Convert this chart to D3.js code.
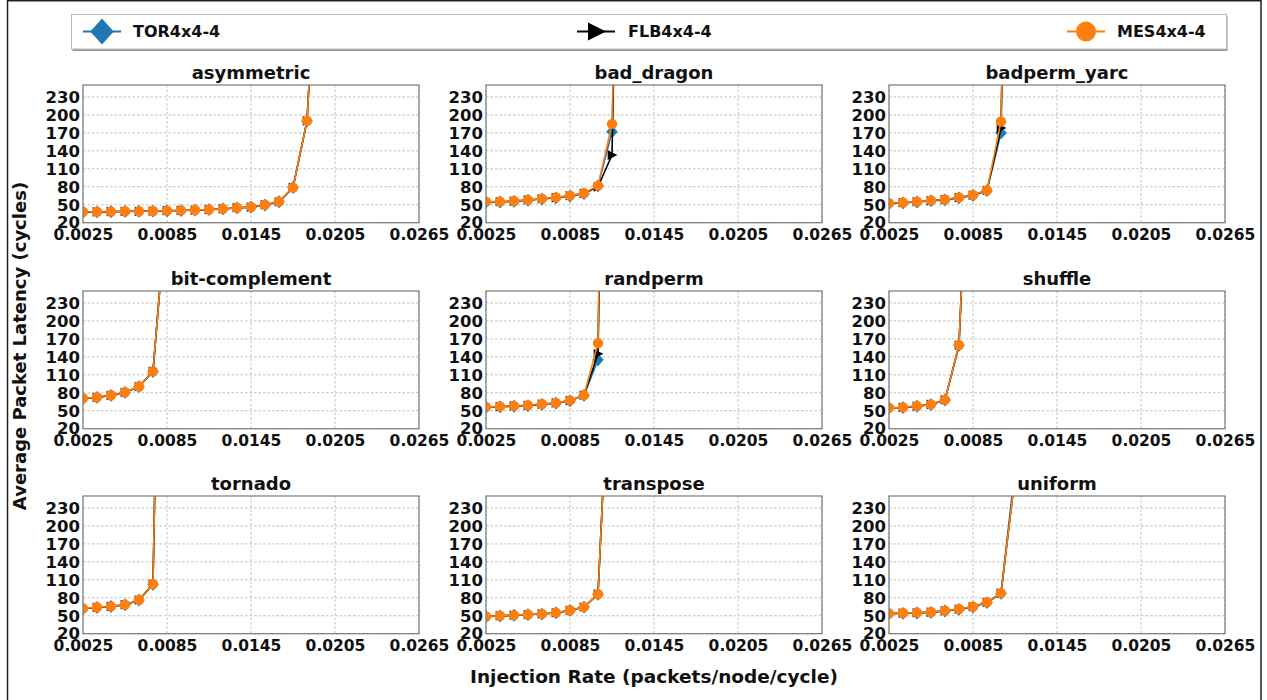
<!DOCTYPE html>
<html>
<head>
<meta charset="utf-8">
<script src="https://cdn.jsdelivr.net/npm/d3@7"></script>
<style>
  html, body { margin: 0; padding: 0; background: #fff; }
  svg { display: block; font-family: "DejaVu Sans", sans-serif; font-weight: bold; }
</style>
</head>
<body>
<svg id="chart" width="1267" height="700"></svg>
<script>
// ---------------- data ----------------
const seriesNames = ["TOR4x4-4", "FLB4x4-4", "MES4x4-4"];
const seriesColors = ["#1f77b4", "#000000", "#ff7f0e"];
const seriesMarkers = ["diamond", "triangle", "circle"];

const patterns = ["asymmetric", "bad_dragon", "badperm_yarc",
                  "bit-complement", "randperm", "shuffle",
                  "tornado", "transpose", "uniform"];

const xTickValues = [0.0025, 0.0085, 0.0145, 0.0205, 0.0265];
const xTickLabels = ["0.0025", "0.0085", "0.0145", "0.0205", "0.0265"];
const yTickValues = [20, 50, 80, 110, 140, 170, 200, 230];

// injection rates (shared by all panels; each series uses the leading part)
const rates = [0.0025, 0.0035, 0.0045, 0.0055, 0.0065, 0.0075, 0.0085, 0.0095,
               0.0105, 0.0115, 0.0125, 0.0135, 0.0145, 0.0155, 0.0165, 0.0175,
               0.0185, 0.0195];

// latency per pattern: [TOR, FLB, MES]
const asymmetricTOR = [37.8, 38, 38.3, 38.8, 39, 39.4, 39.8, 40.3, 41, 41.8, 43, 44.6, 46, 49.5, 55, 78.6, 190, 620];
const asymmetricFLB = [38, 38, 38.5, 39, 39, 39.5, 40, 40.5, 41, 42, 43, 45, 46, 50, 55, 78.6, 190, 620];
const asymmetricMES = [38.2, 38.3, 38.6, 39.1, 39.2, 39.6, 40.1, 40.6, 41.2, 42.1, 43.2, 45, 46.2, 50, 55.2, 78.6, 190, 620];

const badDragonTOR = [54.5, 54.6, 55.5, 57.5, 59.5, 61.5, 64.5, 68.5, 81.5, 172, 1200];
const badDragonFLB = [55, 55, 56, 58, 60, 62, 65, 69, 80, 133, 1300];
const badDragonMES = [55.2, 55.3, 56.2, 58.2, 60.2, 62.2, 65.3, 69.3, 82, 185, 1100];

const badpermTOR = [52, 53, 54.6, 56.5, 58, 61.5, 65.5, 73.5, 170, 1500];
const badpermFLB = [52.4, 53.5, 55, 57, 58.5, 62, 66, 74, 178, 1500];
const badpermMES = [52.6, 53.7, 55.2, 57.2, 58.7, 62.2, 66.2, 74.2, 189, 1500];

const bitCompTOR = [70.5, 72.2, 75.5, 80.6, 90.2, 115.5, 400];
const bitCompFLB = [70.7, 72.4, 75.7, 80.8, 90.4, 115.7, 400];
const bitCompMES = [70.8, 72.5, 75.8, 80.9, 90.5, 115.8, 400];

const randpermTOR = [55.8, 56.5, 57.5, 58.6, 60.6, 62.6, 66.6, 75.5, 135, 1800];
const randpermFLB = [56.3, 57, 58, 59, 61, 63, 67, 76, 145, 1800];
const randpermMES = [56.5, 57.2, 58.2, 59.2, 61.2, 63.2, 67.2, 76.2, 163, 1800];

const shuffleTOR = [54.8, 55.3, 57.5, 60.3, 67.8, 159.4, 700];
const shuffleFLB = [55, 55.5, 57.7, 60.5, 68, 159.6, 700];
const shuffleMES = [55.1, 55.6, 57.8, 60.6, 68.1, 159.7, 700];

const tornadoTOR = [62, 63.8, 65.4, 68.2, 76.1, 102.6, 1350];
const tornadoFLB = [62.2, 64, 65.6, 68.4, 76.3, 102.8, 1350];
const tornadoMES = [62.3, 64.1, 65.7, 68.5, 76.4, 102.9, 1350];

const transposeTOR = [48.5, 49.6, 50.8, 51.8, 52.8, 54.8, 58.8, 64.4, 85.8, 580];
const transposeFLB = [48.7, 49.8, 51, 52, 53, 55, 59, 64.6, 86, 580];
const transposeMES = [48.8, 49.9, 51.1, 52.1, 53.1, 55.1, 59.1, 64.7, 86.1, 580];

const uniformTOR = [53.4, 54, 54.6, 55.6, 57.9, 60.6, 64.5, 72, 87.2, 295];
const uniformFLB = [53.8, 54.3, 55, 56, 58.3, 61, 65, 72.4, 87.6, 282];
const uniformMES = [54, 54.5, 55.2, 56.2, 58.5, 61.2, 65.2, 72.6, 87.8, 282];

const latency = [
  [asymmetricTOR, asymmetricFLB, asymmetricMES],
  [badDragonTOR, badDragonFLB, badDragonMES],
  [badpermTOR, badpermFLB, badpermMES],
  [bitCompTOR, bitCompFLB, bitCompMES],
  [randpermTOR, randpermFLB, randpermMES],
  [shuffleTOR, shuffleFLB, shuffleMES],
  [tornadoTOR, tornadoFLB, tornadoMES],
  [transposeTOR, transposeFLB, transposeMES],
  [uniformTOR, uniformFLB, uniformMES]
];

// ---------------- layout ----------------
const svg = d3.select("#chart");
const colX = [83, 486, 889];
const rowY = [85, 291, 496];
const pw = 336, ph = 137.7;

const x = d3.scaleLinear().domain([0.0025, 0.0265]).range([0, pw]);
const y = d3.scaleLinear().domain([20, 250]).range([ph, 0]);

// outer figure border
svg.append("rect").attr("x", 7.5).attr("y", 0.75).attr("width", 1253.5).attr("height", 730)
  .attr("fill", "none").attr("stroke", "#222").attr("stroke-width", 1.5);

function markerPath(type, s) {
  if (type === "diamond") {
    return `M0,${-s}L${s*0.9},0L0,${s}L${-s*0.9},0Z`;
  } else if (type === "triangle") {
    return `M${s},0L${-s*0.8},${-s*0.9}L${-s*0.8},${s*0.9}Z`;
  } else {
    return d3.symbol().type(d3.symbolCircle).size(Math.PI * s * s)();
  }
}

const line = d3.line().x(d => x(d[0])).y(d => y(d[1]));

patterns.forEach((name, i) => {
  const c = i % 3, r = Math.floor(i / 3);
  const g = svg.append("g").attr("transform", `translate(${colX[c]},${rowY[r]})`);

  // grid
  g.append("g").selectAll("line").data(xTickValues).join("line")
    .attr("x1", d => x(d)).attr("x2", d => x(d)).attr("y1", 0).attr("y2", ph)
    .attr("stroke", "#b0b0b0").attr("stroke-width", 0.8).attr("stroke-dasharray", "2.5,2");
  g.append("g").selectAll("line").data(yTickValues).join("line")
    .attr("y1", d => y(d)).attr("y2", d => y(d)).attr("x1", 0).attr("x2", pw)
    .attr("stroke", "#b0b0b0").attr("stroke-width", 0.8).attr("stroke-dasharray", "2.5,2");

  // clip
  const clipId = "clip" + i;
  g.append("clipPath").attr("id", clipId).append("rect")
    .attr("x", 0).attr("y", 0).attr("width", pw).attr("height", ph);
  const plot = g.append("g").attr("clip-path", `url(#${clipId})`);

  latency[i].forEach((vals, s) => {
    const pts = vals.map((v, k) => [rates[k], v]);
    plot.append("path").datum(pts).attr("d", line)
      .attr("fill", "none").attr("stroke", seriesColors[s]).attr("stroke-width", 1.6);
    const ms = seriesMarkers[s] === "circle" ? 5.2 : (seriesMarkers[s] === "diamond" ? 6.4 : 5.4);
    plot.append("g").selectAll("path").data(pts).join("path")
      .attr("transform", d => `translate(${x(d[0])},${y(d[1])})`)
      .attr("d", markerPath(seriesMarkers[s], ms))
      .attr("fill", seriesColors[s]);
  });

  // axes
  const xAxis = g.append("g").attr("transform", `translate(0,${ph})`)
    .call(d3.axisBottom(x).tickValues(xTickValues).tickFormat((d, k) => xTickLabels[k]).tickSize(0).tickPadding(6));
  xAxis.select(".domain").remove();
  xAxis.selectAll("text").attr("font-size", 15.5).attr("font-family", "DejaVu Sans").attr("font-weight", "bold").attr("fill", "#111");

  const yAxis = g.append("g")
    .call(d3.axisLeft(y).tickValues(yTickValues).tickSize(0).tickPadding(3));
  yAxis.select(".domain").remove();
  yAxis.selectAll("text").attr("font-size", 16.5).attr("font-family", "DejaVu Sans").attr("font-weight", "bold").attr("fill", "#111");

  // frame
  g.append("rect").attr("x", 0).attr("y", 0).attr("width", pw).attr("height", ph)
    .attr("fill", "none").attr("stroke", "#7a7a7a").attr("stroke-width", 1.2);

  // title
  g.append("text").attr("x", pw / 2).attr("y", -6).attr("text-anchor", "middle")
    .attr("font-size", 18).attr("fill", "#111").text(name);
});

// axis labels
svg.append("text").attr("x", 654).attr("y", 683).attr("text-anchor", "middle")
  .attr("font-size", 18.5).attr("fill", "#111").text("Injection Rate (packets/node/cycle)");
svg.append("text").attr("transform", "translate(26,346) rotate(-90)").attr("text-anchor", "middle")
  .attr("font-size", 18).attr("fill", "#111").text("Average Packet Latency (cycles)");

// legend
const lg = svg.append("g");
lg.append("rect").attr("x", 72.5).attr("y", 16).attr("width", 1155).attr("height", 35)
  .attr("fill", "#999");
lg.append("rect").attr("x", 71.5).attr("y", 14.5).attr("width", 1155).attr("height", 34.5)
  .attr("fill", "#fff").attr("stroke", "#bbb").attr("stroke-width", 1);
const legendMarkerX = [102, 596, 1086];
const legendTextX = [133, 628, 1117];
const ly = 31.5;
seriesNames.forEach((n, s) => {
  lg.append("line").attr("x1", legendMarkerX[s] - 19).attr("x2", legendMarkerX[s] + 19)
    .attr("y1", ly).attr("y2", ly).attr("stroke", seriesColors[s]).attr("stroke-width", 2.2);
  const ms = seriesMarkers[s] === "circle" ? 10 : (seriesMarkers[s] === "diamond" ? 13 : 10);
  lg.append("path").attr("transform", `translate(${legendMarkerX[s]},${ly})`)
    .attr("d", markerPath(seriesMarkers[s], ms)).attr("fill", seriesColors[s]);
  lg.append("text").attr("x", legendTextX[s]).attr("y", ly + 5.5)
    .attr("font-size", 16).attr("fill", "#111").text(n);
});
</script>
</body>
</html>
